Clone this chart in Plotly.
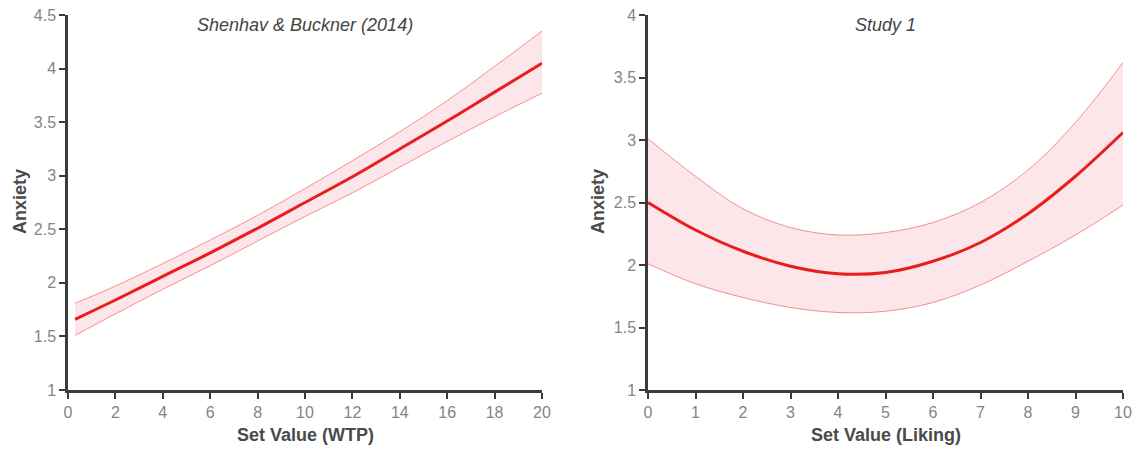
import plotly.graph_objects as go

# Left panel: Shenhav & Buckner (2014)
wtp_x = [0.3, 2, 4, 6, 8, 10, 12, 14, 16, 18, 20]
wtp_mean = [1.66, 1.84, 2.06, 2.28, 2.51, 2.75, 2.99, 3.25, 3.51, 3.78, 4.05]
wtp_upper = [1.81, 1.97, 2.18, 2.40, 2.63, 2.88, 3.14, 3.41, 3.70, 4.02, 4.35]
wtp_lower = [1.51, 1.71, 1.94, 2.16, 2.39, 2.62, 2.84, 3.08, 3.32, 3.55, 3.77]

# Right panel: Study 1
lik_x = [0, 1, 2, 3, 4, 5, 6, 7, 8, 9, 10]
lik_mean = [2.50, 2.28, 2.11, 1.99, 1.93, 1.94, 2.03, 2.18, 2.41, 2.71, 3.06]
lik_upper = [3.01, 2.71, 2.45, 2.30, 2.24, 2.26, 2.34, 2.50, 2.76, 3.14, 3.62]
lik_lower = [2.01, 1.85, 1.74, 1.66, 1.62, 1.63, 1.70, 1.84, 2.03, 2.24, 2.48]

titles = ["Shenhav & Buckner (2014)", "Study 1"]
xtitles = ["Set Value (WTP)", "Set Value (Liking)"]
ytitle = "Anxiety"

W, H = 1142, 449
FONT = "Liberation Sans, Arial, Helvetica, sans-serif"
LINE_RED = "rgb(232,30,30)"
EDGE_RED = "rgba(240,110,110,0.75)"
FILL = "rgba(245,165,178,0.28)"
AXC = "#3c3c3c"

fig = go.Figure()

def add_panel(xs, mean, up, lo, xa, ya):
    fig.add_trace(go.Scatter(x=xs, y=lo, mode="lines", line=dict(color=EDGE_RED, width=1, shape="spline"),
                             xaxis=xa, yaxis=ya, showlegend=False, hoverinfo="skip"))
    fig.add_trace(go.Scatter(x=xs, y=up, mode="lines", line=dict(color=EDGE_RED, width=1, shape="spline"),
                             fill="tonexty", fillcolor=FILL,
                             xaxis=xa, yaxis=ya, showlegend=False, hoverinfo="skip"))
    fig.add_trace(go.Scatter(x=xs, y=mean, mode="lines", line=dict(color=LINE_RED, width=3, shape="spline"),
                             xaxis=xa, yaxis=ya, showlegend=False))

add_panel(wtp_x, wtp_mean, wtp_upper, wtp_lower, "x", "y")
add_panel(lik_x, lik_mean, lik_upper, lik_lower, "x2", "y2")

ydom = [(H - 390) / H, (H - 15) / H]
axis_common = dict(showgrid=False, zeroline=False, showline=True, linecolor=AXC, linewidth=2.5,
                   ticks="outside", ticklen=6, tickwidth=2, tickcolor=AXC, automargin=False,
                   tickfont=dict(family=FONT, size=16, color="#858585"))

fig.update_layout(
    width=W, height=H,
    margin=dict(l=0, r=0, t=0, b=0),
    paper_bgcolor="white", plot_bgcolor="white",
    xaxis=dict(domain=[68 / W, 542 / W], range=[0, 20], tickvals=list(range(0, 21, 2)),
               anchor="y", **axis_common),
    yaxis=dict(domain=ydom, range=[1, 4.5], tickvals=[1, 1.5, 2, 2.5, 3, 3.5, 4, 4.5],
               anchor="x", **axis_common),
    xaxis2=dict(domain=[648 / W, 1123 / W], range=[0, 10], tickvals=list(range(0, 11)),
                anchor="y2", **axis_common),
    yaxis2=dict(domain=ydom, range=[1, 4], tickvals=[1, 1.5, 2, 2.5, 3, 3.5, 4],
                anchor="x2", **axis_common),
)

title_font = dict(family=FONT, size=18, color="#4a4a4a")
for t, xc in zip(titles, [305 / W, 885.5 / W]):
    fig.add_annotation(text="<i>%s</i>" % t, x=xc, y=(H - 25) / H, xref="paper", yref="paper",
                       showarrow=False, font=dict(family=FONT, size=18, color="#444444"),
                       xanchor="center", yanchor="middle")
for t, xc in zip(xtitles, [305 / W, 885.5 / W]):
    fig.add_annotation(text="<b>%s</b>" % t, x=xc, y=(H - 435) / H, xref="paper", yref="paper",
                       showarrow=False, font=title_font, xanchor="center", yanchor="middle")
for xc in [20 / W, 598 / W]:
    fig.add_annotation(text="<b>%s</b>" % ytitle, x=xc, y=(H - 202) / H, xref="paper", yref="paper",
                       showarrow=False, font=title_font, textangle=-90,
                       xanchor="center", yanchor="middle")

fig.write_html("out.html", config={"displayModeBar": False},
               post_script="document.body.style.margin='0';document.body.style.overflow='hidden';")
